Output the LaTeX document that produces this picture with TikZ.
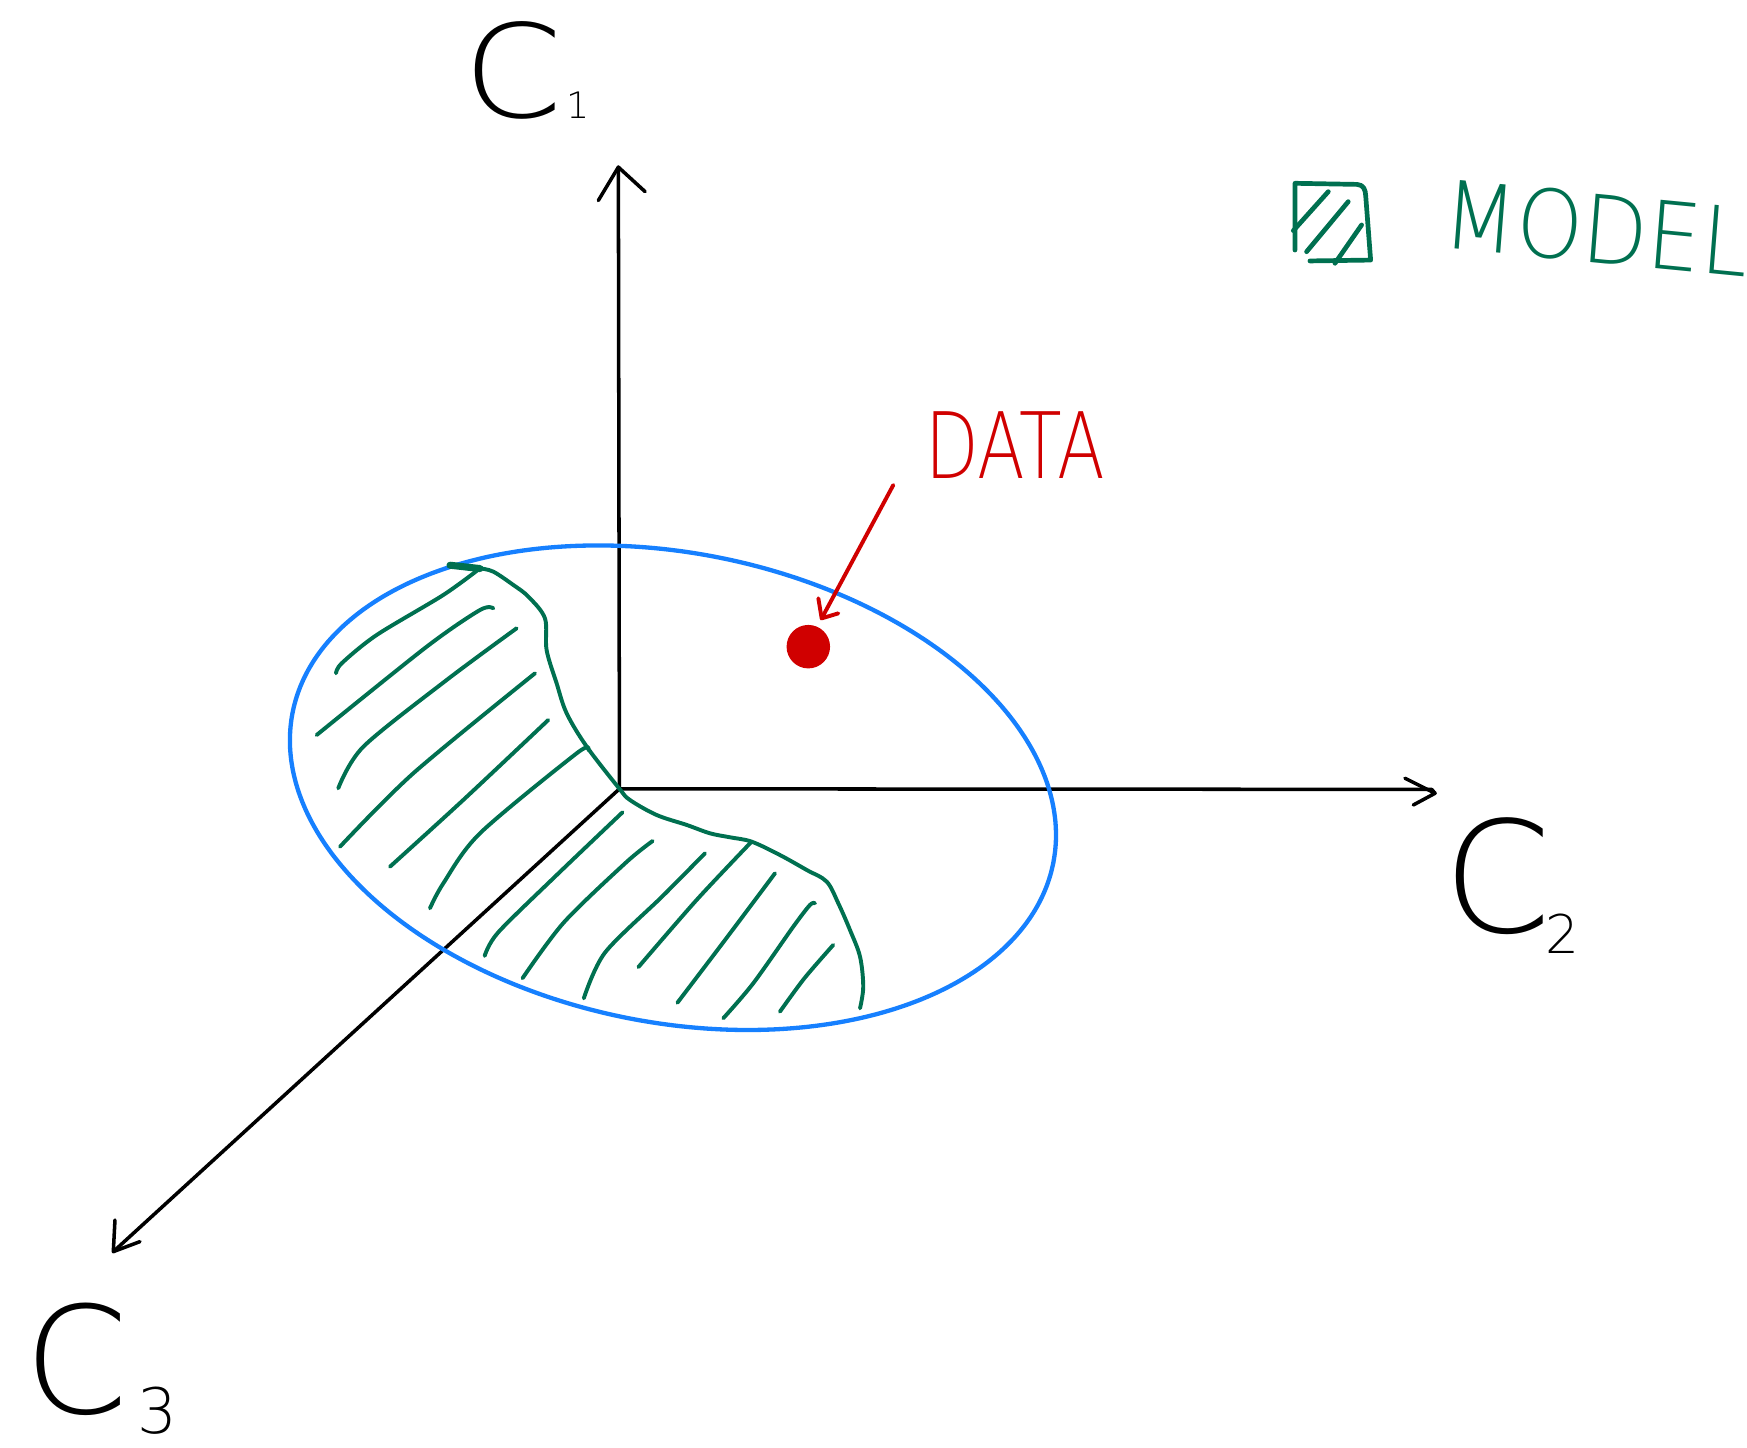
\documentclass[tikz,border=0pt]{standalone}
\usepackage{fontspec}
\IfFontExistsTF{DejaVu Sans ExtraLight}{\newfontfamily\handfont{DejaVu Sans ExtraLight}}{\newfontfamily\handfont{DejaVu Sans}}
\definecolor{ellblue}{RGB}{22,128,255}
\definecolor{modgreen}{RGB}{0,112,80}
\definecolor{datared}{RGB}{208,0,0}
\tikzset{
  axisline/.style={black, line width=0.9pt, line cap=round, line join=round},
  ellline/.style={ellblue, line width=1.1pt},
  greenline/.style={modgreen, line width=1pt, line cap=round, line join=round},
  redline/.style={datared, line width=1pt, line cap=round, line join=round},
  handtext/.style={inner sep=0pt, outer sep=0pt, anchor=center},
}
\begin{document}
\begin{tikzpicture}[x=0.01cm, y=-0.01cm]
\useasboundingbox (0,0) rectangle (1568,1299);

% coordinates
\coordinate (O) at (556,708);
\coordinate (c1tip) at (555,150);
\coordinate (c1armL) at (537,180);
\coordinate (c1armR) at (579,172);
\coordinate (c2tip) at (1288,712);
\coordinate (c2armL) at (1261,698.5);
\coordinate (c2armR) at (1268.5,722.5);
\coordinate (c3tip) at (101.7,1123.4);
\coordinate (c3armL) at (103.2,1095);
\coordinate (c3armR) at (125.6,1114.4);

% axes
\draw[axisline] (O) -- (c1tip);
\draw[axisline] (c1armL) -- (c1tip) -- (c1armR);
\draw[axisline] (O) -- (1285,708.5) -- (c2tip);
\draw[axisline] (c2armL) -- (c2tip) -- (c2armR);
\draw[axisline] (O) -- (c3tip);
\draw[axisline] (c3armL) -- (c3tip) -- (c3armR);

% axis labels
\node[handtext, font=\handfont\fontsize{33}{33}\selectfont, xscale=1.1] (c1) at (460.7,63.6) {C};
\node[handtext, font=\handfont\fontsize{9.3}{10}\selectfont] (c1sub) at (519,94) {1};
\node[handtext, font=\handfont\fontsize{39.5}{40}\selectfont] (c2) at (1343.8,786.8) {C};
\node[handtext, font=\handfont\fontsize{13.6}{14}\selectfont] (c2sub) at (1402,838) {2};
\node[handtext, font=\handfont\fontsize{38}{38}\selectfont] (c3) at (68.8,1220) {C};
\node[handtext, font=\handfont\fontsize{16}{16}\selectfont] (c3sub) at (141,1266) {3};

% blue ellipse
\draw[ellline] plot[domain=0:360, samples=144, smooth]
  ({604+348*cos(\x)*0.98096-210.7*sin(\x)*0.19423},
   {707+348*cos(\x)*0.19423+210.7*sin(\x)*0.98096}) -- cycle;

% green model region boundary
\draw[modgreen, line width=1.8pt, line cap=round] (403.9,507.3) -- (430.8,510.3);
\draw[greenline] plot[smooth, tension=0.55] coordinates {
  (430.8,510.1) (442.8,513.1) (460.7,525) (474.2,535.5) (489.1,554.9)
  (490.6,583.4) (499.6,613.3) (508.6,640.2) (526.6,670.1) (556,708)
  (565.4,718) (589.4,731.5) (616.3,740.4) (637.2,747.9) (655.2,751.5)
  (674.6,755.4) (700,767.4) (724,780.8) (742,791.3) (752.4,810.7)
  (762.9,834.7) (771.9,858.6) (774.8,885.6) (771.9,905)};

% hatching (upper part)
\draw[greenline] plot[smooth] coordinates {(430.8,510.1) (397.9,534) (338.1,569.9) (306.7,595.3) (301.6,604.3)};
\draw[greenline] plot[smooth] coordinates {(442.8,546) (430.8,547.5) (383,580.4) (284.2,659.7)};
\draw[greenline] plot[smooth] coordinates {(463.7,563.9) (400.9,610.3) (326.1,670.2) (303.6,707.5)};
\draw[greenline] plot[smooth] coordinates {(480.2,604.3) (371,694) (305.2,759.9)};
\draw[greenline] plot[smooth] coordinates {(492.1,646.2) (415.8,718) (350,777.9)};
\draw[greenline] plot[smooth] coordinates {(528,673.1) (517.6,676.1) (430.8,747.9) (397.9,792.8) (385.9,815.2)};
% hatching (lower part)
\draw[greenline] plot[smooth] coordinates {(558.8,729) (499,786) (447,837) (435,858)};
\draw[greenline] plot[smooth] coordinates {(585.8,754.8) (562,774) (506,828) (469,878)};
\draw[greenline] plot[smooth] coordinates {(632.7,765.9) (595,804) (543,855) (524,896)};
\draw[greenline] plot[smooth] coordinates {(674.6,755.4) (625,808) (573,868)};
\draw[greenline] plot[smooth] coordinates {(695.6,783.8) (652,842) (608,900)};
\draw[greenline] plot[smooth] coordinates {(731.5,810.7) (727,812.2) (712,831.7) (676.1,882.5) (649.2,913.9)};
\draw[greenline] plot[smooth] coordinates {(747.9,848.1) (722,878) (700,908)};

% data point and label
\fill[datared] (725.5,580.4) circle[radius=0.195cm];
\node[handtext, font=\handfont\fontsize{23.4}{24}\selectfont, text=datared, xscale=0.76] (data) at (911,399.4) {DATA};
\coordinate (dstart) at (801.8,435.3);
\coordinate (dtip) at (737.5,555);
\coordinate (darmL) at (734.5,537);
\coordinate (darmR) at (752.4,550.5);
\draw[redline] (dstart) -- (dtip);
\draw[redline] (darmL) -- (dtip) -- (darmR);

% legend
\draw[greenline, line width=1.2pt] (1162.3,224.4) -- (1162.3,164.5) -- (1218,165.5)
  .. controls (1224,166) and (1225.5,170) .. (1225.8,176) -- (1230.2,233.4) -- (1175.7,234.2);
\draw[greenline, line width=1.2pt] (1192.2,172) -- (1160.8,207);
\draw[greenline, line width=1.2pt] (1210.1,181) -- (1172.7,225.9);
\draw[greenline, line width=1.2pt] (1222.1,201.9) -- (1198.2,236.3);
\node[handtext, font=\handfont\fontsize{24}{24}\selectfont, text=modgreen, xscale=0.9, rotate=-5] (model) at (1433,205) {MODEL};
\end{tikzpicture}
\end{document}
